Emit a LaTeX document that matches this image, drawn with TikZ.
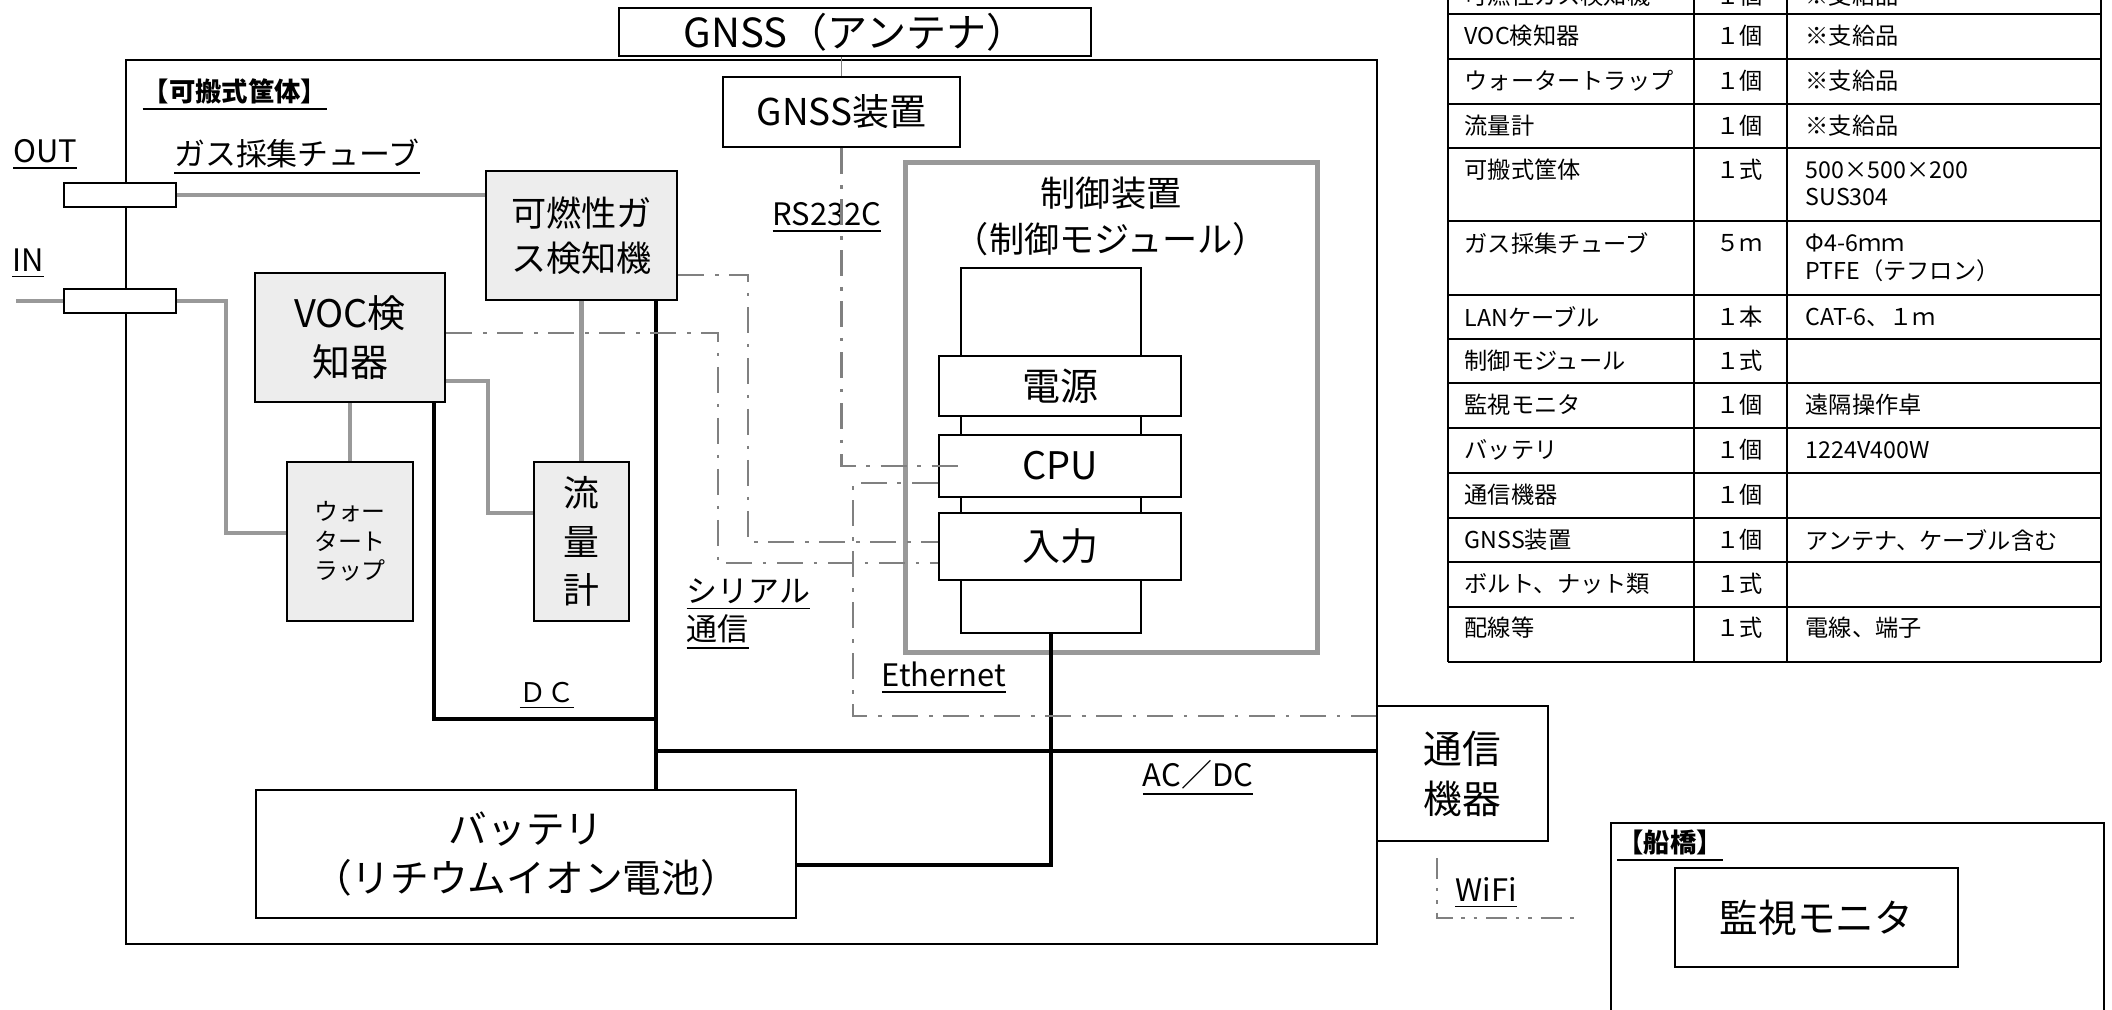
\documentclass[tikz,border=0pt]{standalone}
\usepackage{fontspec}
\setmainfont{Noto Sans CJK JP}
\usetikzlibrary{positioning}
\definecolor{tubegray}{gray}{0.6}
\definecolor{siggray}{gray}{0.5}
\definecolor{boxgray}{gray}{0.93}
\tikzset{
    unit/.style={
        rectangle, draw=black, line width=0.6pt,
        fill=white, inner sep=0pt, align=center
    },
    sensor/.style={
        unit, fill=boxgray
    },
    slot/.style={
        unit, minimum width=2.42cm,
        font=\fontsize{10.8pt}{13pt}\selectfont
    },
    port/.style={
        unit, minimum width=1.12cm, minimum height=0.24cm
    },
    tube/.style={draw=tubegray, line width=1.2pt},
    power/.style={draw=black, line width=1.2pt},
    signal/.style={draw=siggray, line width=0.7pt,
        dash pattern=on 7.5pt off 3pt on 1pt off 3pt},
    wireless/.style={draw=siggray, line width=0.7pt,
        dash pattern=on 6pt off 2.5pt on 1pt off 2.5pt on 1pt off 2.5pt},
    tag/.style={inner sep=0pt, font=\fontsize{8.8pt}{10.8pt}\selectfont},
    area/.style={inner sep=0pt, font=\bfseries\fontsize{7.5pt}{9pt}\selectfont},
    cell/.style={anchor=west, inner sep=0pt, font=\fontsize{6.6pt}{8pt}\selectfont}
}

\begin{document}
\begin{tikzpicture}[x=0.01cm, y=-0.01cm]
\useasboundingbox (0,0) rectangle (2112,1009);

% Enclosure
\node[unit, fill=none, minimum width=12.51cm, minimum height=8.84cm] (case) at (751.5,502) {};
\node[area] (casetag) at (235,95) {\underline{【可搬式筐体】}};

% GNSS
\node[unit, minimum width=4.72cm, minimum height=0.48cm, font=\fontsize{11.4pt}{13pt}\selectfont] (antenna) at (855,32) {GNSS（アンテナ）};
\node[unit, minimum width=2.37cm, minimum height=0.70cm, font=\fontsize{10.5pt}{12pt}\selectfont] (gnssdev) at (841.5,112) {GNSS装置};
\draw[draw=siggray, line width=0.5pt] (antenna.south -| gnssdev.north) -- (gnssdev.north);

% Gas ports and detectors
\node[port] (outport) at (120,195) {};
\node[port] (inport) at (120,301) {};
\node[tag] (outlbl) at (45,155) {\underline{OUT}};
\node[tag] (inlbl) at (28,264) {\underline{IN}};
\node[tag] (tubelbl) at (297,157) {\underline{ガス採集チューブ}};

\node[sensor, minimum width=1.91cm, minimum height=1.29cm, font=\fontsize{10pt}{12.8pt}\selectfont] (gasdet) at (581.5,235.5) {可燃性ガ\\ス検知機};
\node[sensor, minimum width=1.90cm, minimum height=1.29cm, font=\fontsize{10.8pt}{13.9pt}\selectfont] (voc) at (350,337.5) {VOC検\\知器};
\node[sensor, minimum width=1.26cm, minimum height=1.59cm, font=\fontsize{6.8pt}{8.3pt}\selectfont] (trap) at (350,541.5) {ウォー\\タート\\ラップ};
\node[sensor, minimum width=0.95cm, minimum height=1.59cm, font=\fontsize{10.2pt}{13.7pt}\selectfont] (flow) at (581.5,541.5) {流\\量\\計};

% Control unit
\node[unit, draw=tubegray, line width=1.4pt, fill=none, minimum width=4.11cm, minimum height=4.89cm] (ctrl) at (1111.5,407.5) {};
\node[inner sep=0pt, font=\fontsize{10pt}{12pt}\selectfont] (ctrltitle) at (1111,193) {制御装置};
\node[inner sep=0pt, font=\fontsize{10pt}{12pt}\selectfont] (ctrlsub) at (1111,239) {（制御モジュール）};
\node[unit, minimum width=1.80cm, minimum height=3.65cm] (chassis) at (1051,450.5) {};
\node[slot, minimum height=0.60cm] (psu) at (1060,386) {電源};
\node[slot, minimum height=0.62cm] (cpu) at (1060,466) {CPU};
\node[slot, minimum height=0.67cm] (input) at (1060,546.5) {入力};

% Battery, comms, bridge
\node[unit, minimum width=5.40cm, minimum height=1.28cm, font=\fontsize{11pt}{14.2pt}\selectfont] (battery) at (526,854) {バッテリ\\（リチウムイオン電池）};
\node[unit, minimum width=1.71cm, minimum height=1.35cm, font=\fontsize{11pt}{14.2pt}\selectfont] (comm) at (1462.5,773.5) {通信\\機器};
\node[unit, fill=none, anchor=north west, minimum width=4.93cm, minimum height=2.4cm] (bridge) at (1610,822) {};
\node[area] (bridgetag) at (1670,846) {\underline{【船橋】}};
\node[unit, minimum width=2.83cm, minimum height=0.99cm, font=\fontsize{11pt}{13pt}\selectfont] (monitor) at (1816.5,917.5) {監視モニタ};

% Line labels
\node[tag] (rslbl) at (827,218) {\underline{RS232C}};
\node[tag, align=left, anchor=north west] (seriallbl) at (686,578) {\underline{シリアル}\\\underline{通信}};
\node[tag] (ethlbl) at (944,678) {\underline{Ethernet}};
\node[tag, font=\fontsize{7.7pt}{9pt}\selectfont] (dclbl) at (547,696) {\underline{ＤＣ}};
\node[tag] (acdclbl) at (1198,778) {\underline{AC／DC}};
\node[tag] (wifilbl) at (1486,893) {\underline{WiFi}};

% Gas tubing
\coordinate (inlet) at (16,301);
\draw[tube] (outport.east) -- (outport.east -| gasdet.west);
\draw[tube] (inlet) -- (inport.west);
\draw[tube] (inport.east) -- ++(49,0) |- ([yshift=0.085cm]trap.west);
\draw[tube] (voc.south) -- (trap.north);
\draw[tube] ([yshift=-0.435cm]voc.east) -- ++(42,0) |- ([yshift=0.285cm]flow.west);
\draw[tube] (flow.north) -- (gasdet.south);

% Power wiring
\coordinate (dcbus) at (656,719);
\coordinate (acbus) at (656,751);
\draw[power] ([xshift=0.745cm]gasdet.south) -- ([xshift=0.745cm]gasdet.south |- battery.north);
\draw[power] ([xshift=0.84cm]voc.south) |- (dcbus);
\draw[power] (acbus) -- (acbus -| comm.west);
\draw[power] (chassis.south) |- ([yshift=-0.11cm]battery.east);

% Signal lines
\draw[signal] ([yshift=-0.395cm]gasdet.east) -- ++(70,0) |- ([yshift=0.045cm]input.west);
\draw[signal] ([yshift=0.045cm]voc.east) -- ++(272,0) |- ([yshift=-0.165cm]input.west);
\draw[signal] (gnssdev.south) |- (chassis.west |- cpu.center);
\coordinate (ethturn) at (853,716);
\draw[signal] ([yshift=-0.17cm]cpu.west) -| (ethturn) -- (ethturn -| comm.west);
\coordinate (wifitop) at (1437,858);
\coordinate (wifiend) at (1581,918);
\draw[wireless] (wifitop) |- (wifiend);

% Parts list
\foreach \ry in {14,59,104,148,221,295,339,383,428,473,518,562,607,662}
    \draw[line width=0.6pt] (1448,\ry) -- (2101,\ry);
\foreach \cx in {1448,1694,1787,2101}
    \draw[line width=0.6pt] (\cx,-10) -- (\cx,662);
\foreach \ty/\ta/\tb/\tc in {-4/可燃性ガス検知機/１個/※支給品, 36/VOC検知器/１個/※支給品,
    81/ウォータートラップ/１個/※支給品, 126/流量計/１個/※支給品, 170/可搬式筐体/１式/500×500×200,
    243/ガス採集チューブ/５ｍ/Φ4-6ｍｍ, 317/LANケーブル/１本/CAT-6、１ｍ, 361/制御モジュール/１式/,
    405/監視モニタ/１個/遠隔操作卓, 450/バッテリ/１個/1224V400W, 495/通信機器/１個/,
    540/GNSS装置/１個/アンテナ、ケーブル含む, 584/ボルト、ナット類/１式/, 628/配線等/１式/電線、端子} {
    \node[cell] (pa\ty) at (1464,\ty) {\ta};
    \node[cell] (pb\ty) at (1716,\ty) {\tb};
    \node[cell] (pc\ty) at (1805,\ty) {\tc};
}
\node[cell] (pd1) at (1805,197) {SUS304};
\node[cell] (pd2) at (1805,271) {PTFE（テフロン）};

\end{tikzpicture}
\end{document}
